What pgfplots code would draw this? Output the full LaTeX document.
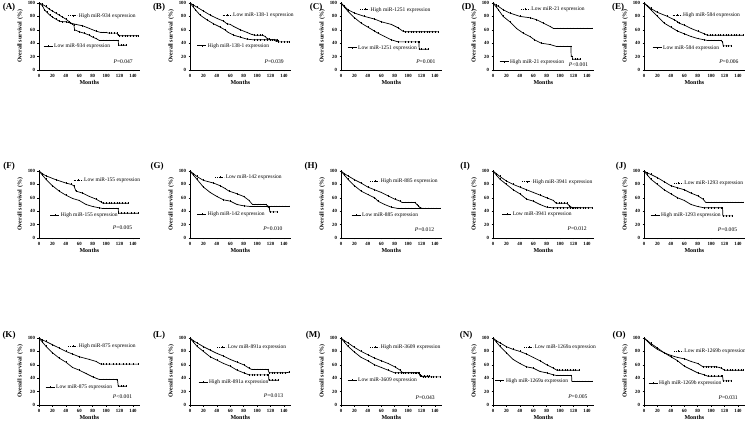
\documentclass[border=0pt]{standalone}
\usepackage{fontspec}
\setmainfont{Liberation Serif}
\usepackage{pgfplots}
\pgfplotsset{compat=1.18}

\pgfplotsset{
  km/.style={
    scale only axis, width=100.7pt, height=67pt, anchor=south west,
    xmin=0, xmax=150, ymin=0, ymax=100,
    axis lines=left, axis line style={-, line width=0.55pt},
    xtick={0,20,...,140}, ytick={0,20,...,100},
    tick align=outside, major tick length=1.5pt,
    tick style={line width=0.45pt, black},
    tick label style={font=\fontsize{4.8}{5}\selectfont\bfseries},
    /pgf/number format/assume math mode=true,
    xlabel={Months}, ylabel={Overall survival (\%)},
    label style={font=\fontsize{6}{6}\selectfont\bfseries},
    xlabel style={yshift=4pt}, ylabel style={yshift=-2pt},
    xticklabel style={yshift=1pt}, yticklabel style={xshift=1pt},
    clip=false,
  },
  curve/.style={black, line width=0.7pt, mark=|, mark size=0.9pt, mark options={line width=0.3pt}},
}
\tikzset{
  leg/.style={anchor=west, inner sep=0pt, font=\fontsize{5.5}{6}\selectfont},
  pv/.style={anchor=east, inner sep=0pt, font=\fontsize{5.6}{6}\selectfont},
  lab/.style={inner sep=0pt, font=\fontsize{9}{9}\selectfont\bfseries},
}
\newcommand{\iconup}{\tikz[baseline=-0.6ex]{\draw[line width=0.35pt, dash pattern=on 1pt off 0.8pt] (0,0)--(9pt,0); \draw[line width=0.35pt] (4.5pt,-1pt)--(4.5pt,1pt);}}
\newcommand{\icondn}{\tikz[baseline=-0.6ex]{\draw[line width=0.55pt] (0,0)--(9pt,0); \draw[line width=0.35pt] (4.5pt,-1pt)--(4.5pt,1pt);}}

\begin{document}
\begin{tikzpicture}
\path[use as bounding box] (0,0) rectangle (745pt,-422pt);

% ---------- row 1 ----------
\begin{axis}[km, at={(39pt,-70pt)}]
\addplot[curve] coordinates {(0,100)(5,96)(8,90)(12,86)(16,82)(20,79)(25,76)(30,73)(35,72)(40,72)(47,70)(55,68)(65,66)(75,62)(85,58)(92,56)(96,56)(100,56)(104,55)(108,55)(112,55)(116,55)(118,52)(120,51)(124,51)(128,51)(132,51)(136,51)(140,51)(144,51)(148,51)};
\addplot[curve] coordinates {(0,100)(5,98)(10,95)(15,91)(20,88)(25,85)(30,82)(35,79)(40,76)(45,72)(50,68)(52,67)(53,60)(60,57)(67,55)(75,52)(80,49)(85,47)(90,44)(95,44)(100,44)(105,44)(110,44)(115,44)(118,44)(118.5,37)(122,37)(126,37)(130,37)};
\node[leg] at (axis cs:43,81) {\iconup\ High miR-934 expression};
\node[leg] at (axis cs:6,35) {\icondn\ Low miR-934 expression};
\node[pv] at (axis cs:140,12) {\textit{P}=0.047};
\end{axis}
\node[lab] at (9pt,-7pt) {(A)};

\begin{axis}[km, at={(190pt,-70pt)}]
\addplot[curve] coordinates {(0,100)(5,97)(10,94)(20,88)(30,82)(40,77)(50,73)(55,69)(60,68)(65,65)(75,60)(85,56)(92,53)(96,52)(100,52)(104,52)(108,52)(112,50)(115,47)(118,46)(122,45)(126,45)(130,45)(132,42)(136,42)(140,42)(144,42)(148,42)};
\addplot[curve] coordinates {(0,100)(4,95)(8,90)(15,82)(25,75)(35,69)(45,64)(52,60)(57,56)(65,52)(75,49)(85,46)(95,45)(100,45)(105,45)(110,45)(115,45)(120,45)(125,45)(128,43)(132,43)};
\node[leg] at (axis cs:48,81) {\iconup\ Low miR-138-1 expression};
\node[leg] at (axis cs:10,36) {\icondn\ High miR-138-1 expression};
\node[pv] at (axis cs:140,12) {\textit{P}=0.039};
\end{axis}
\node[lab] at (159pt,-7pt) {(B)};

\begin{axis}[km, at={(341pt,-70pt)}]
\addplot[curve] coordinates {(0,100)(5,95)(10,90)(20,85)(35,80)(50,76)(60,72)(75,68)(85,63)(92,58)(95,57)(100,57)(104,57)(108,57)(112,57)(116,57)(120,57)(124,57)(128,57)(132,57)(136,57)(140,57)(144,57)};
\addplot[curve] coordinates {(0,100)(5,94)(10,88)(20,78)(30,70)(40,64)(50,58)(55,55)(65,50)(75,45)(85,42)(95,42)(100,42)(105,42)(110,42)(115,42)(116,42)(116.5,31)(120,31)(125,31)(130,31)};
\node[leg] at (axis cs:28,90) {\iconup\ High miR-1251 expression};
\node[leg] at (axis cs:9,33) {\icondn\ Low miR-1251 expression};
\node[pv] at (axis cs:141,12) {\textit{P}=0.001};
\end{axis}
\node[lab] at (316pt,-7pt) {(C)};

\begin{axis}[km, at={(493pt,-70pt)}]
\addplot[curve] coordinates {(0,100)(4,97)(8,95)(15,90)(25,85)(40,80)(55,78)(65,75)(75,70)(85,65)(90,62)(95,62)(100,62)(105,62)(110,62)(115,62)(120,62)(125,62)(130,62)(135,62)(140,62)(148,62)};
\addplot[curve] coordinates {(0,100)(4,95)(8,90)(15,80)(25,72)(35,62)(45,55)(55,50)(62,45)(72,40)(85,38)(95,35)(100,35)(105,35)(110,35)(115,35)(116,35)(116.5,20)(118,20)(118.5,16)(122,16)(126,16)(130,16)};
\node[leg] at (axis cs:41,90) {\iconup\ Low miR-21 expression};
\node[leg] at (axis cs:9,12) {\icondn\ High miR-21 expression};
\node[pv] at (axis cs:142,8) {\textit{P}<0.001};
\end{axis}
\node[lab] at (468pt,-7pt) {(D)};

\begin{axis}[km, at={(644pt,-70pt)}]
\addplot[curve] coordinates {(0,100)(5,96)(10,92)(20,86)(35,80)(45,75)(50,72)(52,70)(60,67)(70,62)(80,58)(90,54)(94,52)(98,52)(102,52)(106,52)(110,52)(114,52)(118,52)(122,52)(126,52)(130,52)(134,52)(138,52)(142,52)(148,52)};
\addplot[curve] coordinates {(0,100)(5,95)(10,90)(20,80)(30,70)(40,64)(50,58)(60,54)(70,50)(80,47)(90,45)(95,44)(100,44)(105,44)(110,44)(115,44)(117,42)(118,36)(122,36)(126,36)(130,36)};
\node[leg] at (axis cs:42,82) {\iconup\ High miR-584 expression};
\node[leg] at (axis cs:12,33) {\icondn\ Low miR-584 expression};
\node[pv] at (axis cs:141,12) {\textit{P}=0.006};
\end{axis}
\node[lab] at (618pt,-7pt) {(E)};

% ---------- row 2 ----------
\begin{axis}[km, at={(39pt,-238pt)}]
\addplot[curve] coordinates {(0,100)(5,96)(10,93)(25,87)(40,82)(48,80)(52,78)(55,70)(65,67)(75,62)(85,58)(92,54)(95,52)(100,52)(104,52)(108,52)(112,52)(116,52)(120,52)(124,52)(128,52)(133,52)};
\addplot[curve] coordinates {(0,100)(5,94)(10,88)(20,78)(30,70)(40,64)(50,59)(60,56)(70,50)(80,47)(90,45)(95,44)(100,44)(105,44)(110,44)(115,44)(118,44)(118.5,37)(122,37)(127,37)(132,37)(137,37)(142,37)(148,37)};
\node[leg] at (axis cs:51,86) {\iconup\ Low miR-155 expression};
\node[leg] at (axis cs:16,34) {\icondn\ High miR-155 expression};
\node[pv] at (axis cs:139,16) {\textit{P}=0.005};
\end{axis}
\node[lab] at (9pt,-166pt) {(F)};

\begin{axis}[km, at={(190pt,-238pt)}]
\addplot[curve] coordinates {(0,100)(5,96)(10,92)(20,86)(35,82)(45,78)(52,74)(58,70)(70,66)(80,62)(88,56)(93,50)(97,50)(101,50)(105,50)(109,50)(113,50)(117,47)(121,47)(125,47)(129,47)(133,47)(137,47)(141,47)(148,47)};
\addplot[curve] coordinates {(0,100)(5,94)(10,88)(20,76)(30,68)(40,62)(50,57)(60,55)(70,50)(80,48)(90,47)(95,47)(100,47)(105,47)(110,47)(115,47)(118,45)(119,39)(124,39)(130,39)};
\node[leg] at (axis cs:37,90) {\iconup\ Low miR-142 expression};
\node[leg] at (axis cs:10,35) {\icondn\ High miR-142 expression};
\node[pv] at (axis cs:138,14) {\textit{P}=0.010};
\end{axis}
\node[lab] at (157pt,-166pt) {(G)};

\begin{axis}[km, at={(341pt,-238pt)}]
\addplot[curve] coordinates {(0,100)(5,96)(10,93)(20,87)(30,82)(40,76)(50,72)(60,68)(70,63)(80,58)(88,55)(91,53)(95,53)(100,53)(105,53)(110,53)(113,50)(115,48)(118,45)(122,44)(126,44)(130,44)(134,44)(138,44)(142,44)(148,44)};
\addplot[curve] coordinates {(0,100)(5,94)(10,88)(20,78)(30,70)(40,65)(50,60)(55,55)(65,50)(75,46)(85,44)(90,44)(95,44)(100,44)(105,44)(110,44)(115,44)(120,44)(125,44)(130,44)};
\node[leg] at (axis cs:43,85) {\iconup\ High miR-885 expression};
\node[leg] at (axis cs:15,34) {\icondn\ Low miR-885 expression};
\node[pv] at (axis cs:139,13) {\textit{P}=0.012};
\end{axis}
\node[lab] at (311pt,-166pt) {(H)};

\begin{axis}[km, at={(493pt,-238pt)}]
\addplot[curve] coordinates {(0,100)(5,96)(10,92)(20,85)(30,80)(40,76)(50,72)(60,68)(70,64)(80,60)(90,56)(94,52)(98,52)(102,52)(106,52)(110,52)(114,48)(118,45)(122,45)(126,45)(130,45)(134,45)(138,45)(142,45)(148,45)};
\addplot[curve] coordinates {(0,100)(5,94)(10,88)(20,80)(30,72)(40,66)(50,58)(60,55)(70,50)(80,46)(90,45)(95,45)(100,45)(105,45)(110,45)(115,45)(120,45)(125,45)(130,45)};
\node[leg] at (axis cs:43,84) {\iconup\ High miR-3941 expression};
\node[leg] at (axis cs:13,35) {\icondn\ Low miR-3941 expression};
\node[pv] at (axis cs:140,14) {\textit{P}=0.012};
\end{axis}
\node[lab] at (465pt,-166pt) {(I)};

\begin{axis}[km, at={(644pt,-238pt)}]
\addplot[curve] coordinates {(0,100)(5,97)(10,95)(20,90)(30,84)(40,78)(50,75)(60,72)(70,67)(80,63)(88,58)(92,53)(96,53)(100,53)(104,53)(108,53)(112,53)(116,53)(120,53)(124,53)(128,53)(132,53)(136,53)(140,53)(144,53)(148,53)};
\addplot[curve] coordinates {(0,100)(5,94)(10,88)(20,80)(30,72)(40,66)(50,60)(60,56)(70,50)(80,47)(90,45)(95,45)(100,45)(105,45)(110,45)(115,45)(117,45)(117.5,33)(122,33)(127,33)(132,33)};
\node[leg] at (axis cs:44,81) {\iconup\ Low miR-1293 expression};
\node[leg] at (axis cs:9,34) {\icondn\ High miR-1293 expression};
\node[pv] at (axis cs:139,13) {\textit{P}=0.005};
\end{axis}
\node[lab] at (621pt,-166pt) {(J)};

% ---------- row 3 ----------
\begin{axis}[km, at={(39pt,-405pt)}]
\addplot[curve] coordinates {(0,100)(5,97)(10,95)(20,90)(30,85)(40,80)(50,76)(60,72)(75,68)(85,65)(92,61)(96,61)(100,61)(105,61)(110,61)(115,61)(120,61)(125,61)(130,61)(135,61)(140,61)(148,61)};
\addplot[curve] coordinates {(0,100)(5,94)(10,88)(20,78)(30,70)(40,64)(50,56)(60,52)(70,47)(80,42)(90,38)(95,38)(100,38)(105,38)(110,38)(115,38)(117,37)(118,28)(122,28)(126,28)(130,28)};
\node[leg] at (axis cs:43,88) {\iconup\ High miR-875 expression};
\node[leg] at (axis cs:9,26) {\icondn\ Low miR-875 expression};
\node[pv] at (axis cs:139,12) {\textit{P}<0.001};
\end{axis}
\node[lab] at (9pt,-335pt) {(K)};

\begin{axis}[km, at={(190pt,-405pt)}]
\addplot[curve] coordinates {(0,100)(5,96)(10,93)(20,87)(30,82)(40,77)(50,73)(60,68)(70,64)(80,60)(88,55)(92,53)(96,53)(100,53)(104,53)(108,53)(112,53)(116,53)(118,48)(122,48)(126,48)(130,48)(134,48)(138,48)(142,48)(148,49)};
\addplot[curve] coordinates {(0,100)(5,94)(10,88)(20,80)(30,72)(40,67)(50,62)(60,58)(70,52)(80,48)(88,45)(92,45)(96,45)(100,45)(105,45)(110,45)(115,45)(117,45)(117.5,37)(122,37)(127,37)(132,37)};
\node[leg] at (axis cs:40,86) {\iconup\ Low miR-891a expression};
\node[leg] at (axis cs:12,34) {\icondn\ High miR-891a expression};
\node[pv] at (axis cs:139,14) {\textit{P}=0.013};
\end{axis}
\node[lab] at (159pt,-335pt) {(L)};

\begin{axis}[km, at={(341pt,-405pt)}]
\addplot[curve] coordinates {(0,100)(5,96)(10,93)(20,86)(30,80)(40,75)(50,70)(60,66)(70,62)(80,57)(88,52)(92,48)(96,48)(100,48)(104,48)(108,48)(112,48)(116,48)(118,43)(122,42)(126,42)(130,42)(134,42)(138,42)(142,42)(148,42)};
\addplot[curve] coordinates {(0,100)(5,94)(10,88)(20,79)(30,71)(40,66)(50,60)(60,56)(70,52)(80,48)(85,48)(90,48)(95,48)(100,48)(105,48)(110,48)(115,48)(118,45)(120,43)(124,43)(128,43)(132,43)};
\node[leg] at (axis cs:43,86) {\iconup\ High miR-3609 expression};
\node[leg] at (axis cs:9,37) {\icondn\ Low miR-3609 expression};
\node[pv] at (axis cs:140,11) {\textit{P}=0.043};
\end{axis}
\node[lab] at (313pt,-335pt) {(M)};

\begin{axis}[km, at={(493pt,-405pt)}]
\addplot[curve] coordinates {(0,100)(5,96)(10,93)(20,87)(30,83)(40,80)(50,76)(60,71)(70,66)(80,60)(90,55)(95,52)(99,52)(103,52)(107,52)(111,52)(115,52)(119,52)(123,52)(128,52)};
\addplot[curve] coordinates {(0,100)(5,94)(10,88)(20,78)(30,68)(40,62)(50,57)(60,55)(70,50)(80,48)(90,45)(95,44)(100,44)(105,44)(110,44)(115,44)(117,44)(117.5,35)(121,35)(125,35)(129,35)(133,35)(137,35)(141,35)(148,35)};
\node[leg] at (axis cs:46,86) {\iconup\ Low miR-1269a expression};
\node[leg] at (axis cs:3,36) {\icondn\ High miR-1269a expression};
\node[pv] at (axis cs:141,12) {\textit{P}=0.005};
\end{axis}
\node[lab] at (466pt,-335pt) {(N)};

\begin{axis}[km, at={(644pt,-405pt)}]
\addplot[curve] coordinates {(0,100)(5,95)(10,90)(20,83)(30,78)(40,74)(50,71)(60,69)(70,65)(80,62)(88,57)(92,57)(96,57)(100,57)(104,57)(108,57)(112,56)(115,55)(120,52)(124,52)(128,52)(132,52)(136,52)(140,52)(144,52)(148,52)};
\addplot[curve] coordinates {(0,100)(5,96)(10,92)(20,85)(30,78)(40,72)(50,66)(60,58)(70,53)(80,48)(90,45)(95,43)(100,43)(105,43)(110,43)(115,43)(117,43)(118,36)(122,36)(126,36)(130,36)};
\node[leg] at (axis cs:44,80) {\iconup\ Low miR-1269b expression};
\node[leg] at (axis cs:6,32) {\icondn\ High miR-1269b expression};
\node[pv] at (axis cs:140,11) {\textit{P}=0.031};
\end{axis}
\node[lab] at (619pt,-335pt) {(O)};
\end{tikzpicture}
\end{document}
